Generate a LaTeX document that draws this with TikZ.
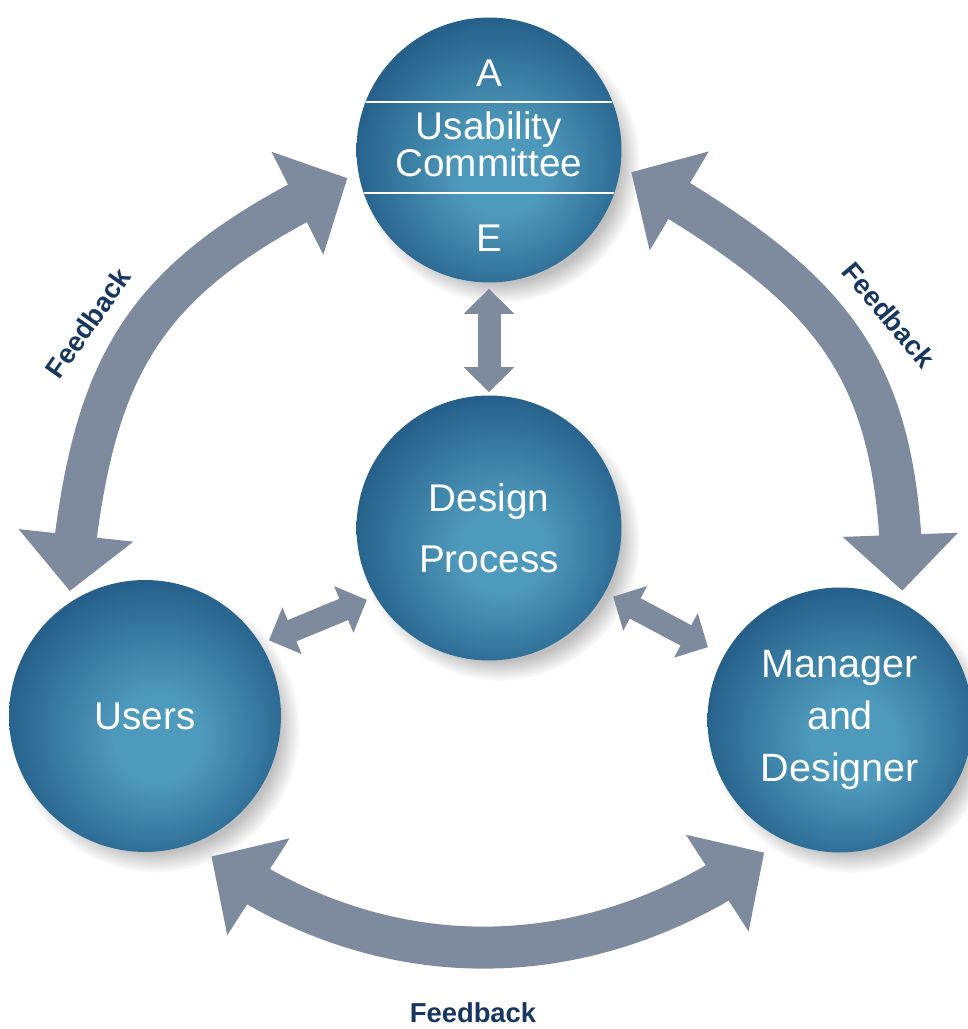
\documentclass[tikz,border=0pt]{standalone}
\usepackage{fontspec}
\setmainfont{Liberation Sans}
\usetikzlibrary{arrows.meta,bending,shadows,positioning}

\definecolor{arrowgray}{RGB}{126,138,158}
\definecolor{fbnavy}{RGB}{23,55,94}
\definecolor{bubblelight}{RGB}{78,154,188}
\definecolor{bubblemid}{RGB}{40,100,142}
\definecolor{bubbledark}{RGB}{22,58,98}
\definecolor{bubblerim}{RGB}{16,46,82}

\pgfdeclareradialshading{bubble}{\pgfpoint{3bp}{-5bp}}{color(0bp)=(bubblelight); color(8bp)=(bubblelight); color(26bp)=(bubblemid); color(38bp)=(bubbledark); color(50bp)=(bubblerim)}

\begin{document}
\begin{tikzpicture}[x=0.02cm, y=0.02cm,
  bubble/.style={circle, minimum size=5.3cm, inner sep=0pt, shading=bubble,
    circular drop shadow={shadow xshift=.2cm, shadow yshift=-.24cm, shadow scale=1.06, opacity=.5},
    text=white, align=center, font=\fontsize{22}{29.5}\selectfont},
  bubbletext/.style={text=white, align=center, inner sep=0pt, font=\fontsize{22}{21}\selectfont},
  fb/.style={draw=arrowgray, line width=.84cm, >={Triangle[length=1.12cm, width=2.24cm, flex]}, <->,
    shorten <=.24cm, shorten >=.24cm},
  link/.style={draw=arrowgray, line width=.46cm, >={Triangle[length=.5cm, width=.98cm]}, <->},
  fbtext/.style={text=fbnavy, inner sep=1pt, font=\fontsize{15.6}{18}\selectfont\bfseries}]
\useasboundingbox (0,0) rectangle (968,1029);

\node[bubble] (committee) at (489,879) {};
\node[bubble, font=\fontsize{22}{34.6}\selectfont] (design) at (489,501) {Design\\Process};
\node[bubble, minimum size=5.44cm] (users) at (145,313) {Users};
\node[bubble, font=\fontsize{22.5}{29.5}\selectfont] (manager) at (840,309) {Manager\\and\\Designer};

\begin{scope}
\clip (committee.center) circle[radius=132];
\draw[white, line width=1.6pt] (300,927) -- (680,927) (300,836) -- (680,836);
\end{scope}
\node[bubbletext] (usability) at ([yshift=.12cm]committee.center) {Usability\\Committee};
\node[bubbletext] (atext) at ([yshift=1.54cm]committee.center) {A};
\node[bubbletext] (etext) at ([yshift=-1.77cm]committee.center) {E};

\draw[fb] (users.124) to[out=85, in=205, looseness=1.2] (committee.190);
\draw[fb] (committee.-7) to[out=-30, in=90, looseness=1.2] (manager.62);
\draw[fb, shorten <=.44cm, shorten >=.44cm] (users.-69) to[out=-38, in=218, looseness=1] (manager.244);

\draw[link, shorten <=.12cm, shorten >=.06cm] (committee.south) -- (design.north);
\draw[link, shorten <=.18cm, shorten >=.18cm] (design.211) -- (users.32);
\draw[link, shorten <=.18cm, shorten >=.36cm] (design.-29) -- (manager.151);

\node[fbtext, rotate=55] (fbleft) at (88,706) {Feedback};
\node[fbtext, rotate=-50] (fbright) at (889,714) {Feedback};
\node[fbtext] (fbbottom) at (473,16) {Feedback};
\end{tikzpicture}
\end{document}
